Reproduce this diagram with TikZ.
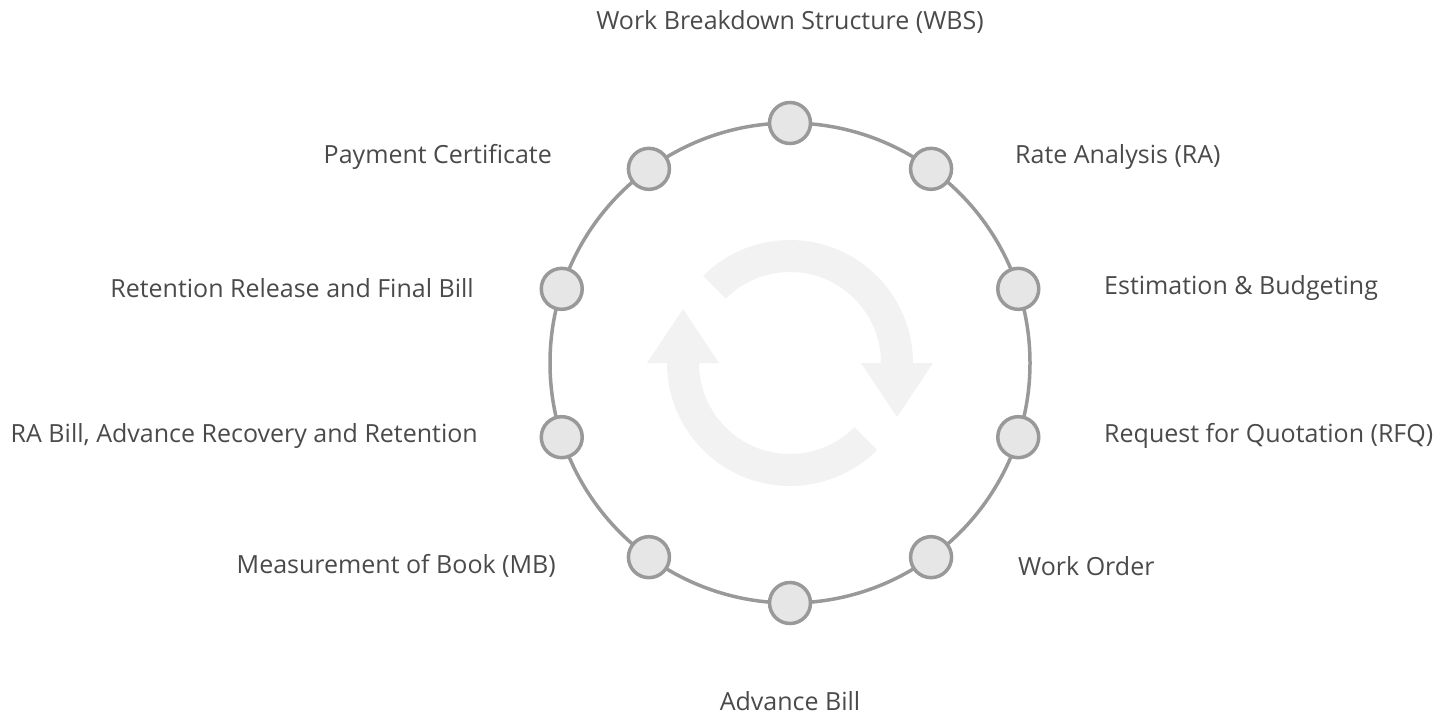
\documentclass[tikz,border=0pt]{standalone}
\usepackage{fontspec}
\setmainfont{Open Sans}
\usetikzlibrary{calc}
\definecolor{ringgray}{HTML}{999999}
\definecolor{dotfill}{HTML}{E6E6E6}
\definecolor{txtgray}{HTML}{4A4A4A}
\definecolor{arrowfill}{HTML}{F2F2F2}
\tikzset{
  dot/.style={circle, draw=ringgray, fill=dotfill, line width=3.5pt, minimum size=41pt, inner sep=0pt},
  lbl/.style={text=txtgray, font=\fontsize{25}{30}\selectfont, inner sep=0pt},
  ring/.style={draw=ringgray, line width=3.5pt}
}
\begin{document}
\begin{tikzpicture}[x=1pt,y=1pt]
\useasboundingbox (0,0) rectangle (1433,-715);
\coordinate (c) at (790,-363);
% cycle arrows
\fill[arrowfill] ($(c)+(135:123)$) arc[start angle=135, end angle=0, radius=123]
  -- ++(20,0) -- ++(-36,-54) -- ++(-36,54) -- ++(20,0)
  arc[start angle=0, end angle=135, radius=91] -- cycle;
\fill[arrowfill] ($(c)+(-45:123)$) arc[start angle=-45, end angle=-180, radius=123]
  -- ++(-20,0) -- ++(36,54) -- ++(36,-54) -- ++(-20,0)
  arc[start angle=180, end angle=315, radius=91] -- cycle;
% ring
\draw[ring] (c) circle[radius=240];
% dots
\foreach \i in {0,...,9} {
  \node[dot] (d\i) at ($(c)+({90-36*\i}:240)$) {};
}
% labels
\node[lbl, anchor=center] (l0) at (790,-22) {Work Breakdown Structure (WBS)};
\node[lbl, anchor=west] (l1) at (1015,-157) {Rate Analysis (RA)};
\node[lbl, anchor=west] (l2) at (1104,-288) {Estimation \& Budgeting};
\node[lbl, anchor=west] (l3) at (1104,-436) {Request for Quotation (RFQ)};
\node[lbl, anchor=west] (l4) at (1018,-566) {Work Order};
\node[lbl, anchor=center] (l5) at (790,-701) {Advance Bill};
\node[lbl, anchor=east] (l6) at (556,-566) {Measurement of Book (MB)};
\node[lbl, anchor=east] (l7) at (478,-436) {RA Bill, Advance Recovery and Retention};
\node[lbl, anchor=east] (l8) at (474,-288) {Retention Release and Final Bill};
\node[lbl, anchor=east] (l9) at (552,-157) {Payment Certificate};
\end{tikzpicture}
\end{document}
